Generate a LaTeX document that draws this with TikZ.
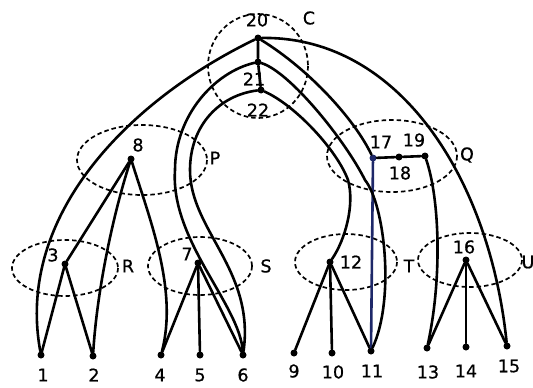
\documentclass[tikz,border=0pt]{standalone}
\usepackage{fontspec}
\newfontfamily\lblfont{DejaVu Sans}[FakeBold=0.7]
\definecolor{inkblue}{RGB}{30,40,105}
\begin{document}
\begin{tikzpicture}[x=1pt,y=-1pt,
  dot/.style={circle,fill=black,inner sep=0pt,minimum size=7pt},
  lbl/.style={inner sep=0pt,font=\lblfont\fontsize{17.5}{20}\selectfont},
  edge/.style={line width=2.6pt,line cap=round},
  grp/.style={line width=1.7pt,dash pattern=on 4.5pt off 3pt}]
\useasboundingbox (0,0) rectangle (533,388);

% group outlines
\draw[grp] (258,66) ellipse [x radius=50, y radius=52];
\draw[grp] (142,160) ellipse [x radius=65, y radius=35];
\draw[grp] (392,156) ellipse [x radius=65, y radius=36];
\draw[grp] (65,268) ellipse [x radius=53, y radius=28];
\draw[grp] (200,266) ellipse [x radius=52, y radius=29];
\draw[grp] (346,262) ellipse [x radius=51, y radius=28];
\draw[grp] (470,260) ellipse [x radius=52, y radius=27];

% vertices
\node[dot] (n1) at (41,355) {};
\node[dot] (n2) at (93,356) {};
\node[dot] (n3) at (65,264) {};
\node[dot] (n4) at (161,355) {};
\node[dot] (n5) at (200,355) {};
\node[dot] (n6) at (243,355) {};
\node[dot] (n7) at (198,263) {};
\node[dot] (n8) at (131,159) {};
\node[dot] (n9) at (294,353) {};
\node[dot] (n10) at (332,353) {};
\node[dot] (n11) at (371,351) {};
\node[dot] (n12) at (330,262) {};
\node[dot] (n13) at (427,348) {};
\node[dot] (n14) at (466,347) {};
\node[dot] (n15) at (507,346) {};
\node[dot] (n16) at (466,260) {};
\node[dot,fill=inkblue] (n17) at (373,158) {};
\node[dot] (n18) at (399,157) {};
\node[dot] (n19) at (425,156) {};
\node[dot] (n20) at (258,38) {};
\node[dot] (n21) at (258,62) {};
\node[dot] (n22) at (261,90) {};

% labels
\node[lbl] (l1) at (43,375) {1};
\node[lbl] (l2) at (94,375) {2};
\node[lbl] (l3) at (53,255) {3};
\node[lbl] (l4) at (160,375) {4};
\node[lbl] (l5) at (200,375) {5};
\node[lbl] (l6) at (243,375) {6};
\node[lbl] (l7) at (187,254) {7};
\node[lbl] (l8) at (138,145) {8};
\node[lbl] (l9) at (294,371) {9};
\node[lbl] (l10) at (333,372) {10};
\node[lbl] (l11) at (372,371) {11};
\node[lbl] (l12) at (351,262) {12};
\node[lbl] (l13) at (428,372) {13};
\node[lbl] (l14) at (466,371) {14};
\node[lbl] (l15) at (509,366) {15};
\node[lbl] (l16) at (464,247) {16};
\node[lbl] (l17) at (381,142) {17};
\node[lbl] (l18) at (400,173) {18};
\node[lbl] (l19) at (414,140) {19};
\node[lbl] (l20) at (257,20) {20};
\node[lbl] (l21) at (254,79) {21};
\node[lbl] (l22) at (258,110) {22};
\node[lbl] (lC) at (309,18) {C};
\node[lbl] (lP) at (215,158) {P};
\node[lbl] (lQ) at (467,155) {Q};
\node[lbl] (lR) at (128,266) {R};
\node[lbl] (lS) at (266,266) {S};
\node[lbl] (lT) at (409,266) {T};
\node[lbl] (lU) at (528,262) {U};

% straight edges
\draw[edge] (n20) -- (n21) -- (n22);
\draw[edge] (n17) -- (n18) -- (n19);
\draw[edge] (n3) -- (n1);
\draw[edge] (n3) -- (n2);
\draw[edge] (n8) -- (n3);
\draw[edge] (n7) -- (n4);
\draw[edge] (n7) -- (n5);
\draw[edge] (n7) -- (n6);
\draw[edge] (n12) -- (n9);
\draw[edge] (n12) -- (n10);
\draw[edge] (n12) -- (n11);
\draw[edge] (n16) -- (n13);
\draw[edge] (n16) -- (n14);
\draw[edge] (n16) -- (n15);
\draw[edge,inkblue] (n17) -- (n11);

% curved edges
\draw[edge] (n8) .. controls (113,215) and (97,290) .. (n2);
\draw[edge] (n8) .. controls (150,220) and (178,290) .. (n4);
\draw[edge] (n20) .. controls (130,100) and (15,215) .. (n1);
\draw[edge] (n20) .. controls (400,36) and (490,180) .. (n15);
\draw[edge] (n20) .. controls (310,70) and (355,120) .. (n17);
\draw[edge] (n21) .. controls (290,72) and (345,140) .. (365,180)
                  .. controls (385,205) and (395,300) .. (n11);
\draw[edge] (n22) .. controls (295,105) and (337,150) .. (348,180)
                  .. controls (355,205) and (345,240) .. (n12);
\draw[edge] (n21) .. controls (215,72) and (175,115) .. (175,170)
                  .. controls (170,240) and (240,305) .. (n6);
\draw[edge] (n22) .. controls (220,95) and (190,125) .. (190,170)
                  .. controls (190,230) and (255,270) .. (n6);
\draw[edge] (n19) .. controls (440,200) and (442,280) .. (n13);
\end{tikzpicture}
\end{document}
